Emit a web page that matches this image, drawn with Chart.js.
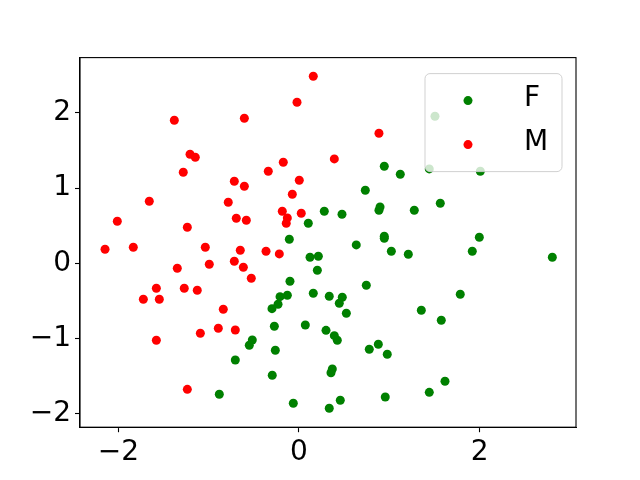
<!DOCTYPE html>
<html>
<head>
<meta charset="utf-8">
<script src="https://cdn.jsdelivr.net/npm/chart.js@4"></script>
<style>
  html, body { margin: 0; padding: 0; background: #fff; }
  #chart { display: block; }
</style>
</head>
<body>
<canvas id="chart" width="640" height="480"></canvas>
<script>
"use strict";

const seriesLabels = ["F", "M"];
const seriesColors = ["green", "red"];
const xTicks = [-2, 0, 2];
const yTicks = [-2, -1, 0, 1, 2];

// F (green)
const femaleX = [0.280, 0.103, -0.107, 1.505, 1.442, 2.007, 0.944, 1.121, 0.734, 0.897,
  0.885, 1.276, 1.564, 0.476, 0.944, 0.944, 1.996, 0.634, 1.022, 1.918,
  0.122, 0.214, 0.203, -0.100, -0.210, -0.129, -0.232, -0.299, 0.158, 0.335,
  -0.273, 0.070, 0.299, -0.517, -0.550, -0.262, -0.705, -0.296, -0.882, -0.063,
  0.335, 1.210, 2.804, 0.745, 0.479, 0.446, 0.524, 1.785, 1.354, 1.575,
  0.391, 0.424, 0.778, 0.878, 0.977, 0.369, 0.354, 1.616, 1.442, 0.955, 0.457];
const femaleY = [0.692, 0.532, 0.319, 1.956, 1.255, 1.224, 1.291, 1.184, 0.971, 0.749,
  0.705, 0.705, 0.798, 0.652, 0.359, 0.333, 0.346, 0.244, 0.160, 0.160,
  0.080, 0.093, -0.093, -0.240, -0.444, -0.426, -0.546, -0.604, -0.399, -0.439,
  -0.838, -0.821, -0.892, -1.021, -1.091, -1.158, -1.287, -1.490, -1.743, -1.863,
  -1.929, 0.120, 0.080, -0.293, -0.452, -0.532, -0.665, -0.413, -0.625, -0.758,
  -0.963, -1.025, -1.144, -1.078, -1.211, -1.407, -1.456, -1.570, -1.717, -1.779, -1.823];

// M (red)
const maleX = [0.158, -0.022, -1.380, -0.605, -1.206, -1.148, -1.281, -0.340, -0.174, -0.716,
  -0.605, 0.003, -0.074, -1.657, -0.783, -0.185, -0.129, -0.141, 0.025, -2.011,
  -0.694, -0.583, -1.236, 0.885, 0.391, -2.147, -1.834, -1.037, -0.650, -0.365,
  -0.218, -1.347, -0.993, -0.716, -0.616, -0.528, -1.579, -1.270, -1.126, -1.723,
  -1.546, -0.838, -0.893, -0.705, -1.092, -1.579, -1.236];
const maleY = [2.488, 2.142, 1.903, 1.929, 1.450, 1.410, 1.211, 1.224, 1.344, 1.091,
  1.025, 1.104, 0.918, 0.825, 0.812, 0.692, 0.603, 0.532, 0.665, 0.559,
  0.599, 0.572, 0.479, 1.730, 1.388, 0.186, 0.213, 0.213, 0.173, 0.160,
  0.124, -0.067, -0.013, 0.027, -0.053, -0.200, -0.333, -0.333, -0.359, -0.479,
  -0.479, -0.612, -0.865, -0.888, -0.931, -1.025, -1.677];

const FONT = "'DejaVu Sans', sans-serif";

function toPoints(xs, ys) {
  return xs.map((x, i) => ({ x: x, y: ys[i] }));
}

function fmt(v) {
  return v < 0 ? "\u2212" + Math.abs(v) : String(v);
}

const frame = {
  id: "frame",
  afterDraw(chart) {
    const { ctx, chartArea } = chart;
    ctx.save();
    ctx.strokeStyle = "#000";
    ctx.lineWidth = 1.1;
    ctx.strokeRect(chartArea.left, chartArea.top,
      chartArea.right - chartArea.left, chartArea.bottom - chartArea.top);
    ctx.restore();
  }
};

const legendBox = {
  id: "legendBox",
  afterDatasetsDraw(chart) {
    const { ctx, chartArea } = chart;
    const w = 137, h = 98;
    const x0 = chartArea.right - 14 - w;
    const y0 = chartArea.top + 16;
    ctx.save();
    ctx.beginPath();
    ctx.roundRect(x0, y0, w, h, 5);
    ctx.fillStyle = "rgba(255,255,255,0.8)";
    ctx.fill();
    ctx.strokeStyle = "rgba(204,204,204,0.9)";
    ctx.lineWidth = 1;
    ctx.stroke();
    chart.data.datasets.forEach((ds, i) => {
      const cy = y0 + 27 + i * 44;
      ctx.beginPath();
      ctx.arc(x0 + 43, cy, 4.5, 0, Math.PI * 2);
      ctx.fillStyle = ds.backgroundColor;
      ctx.fill();
      ctx.fillStyle = "#000";
      ctx.font = "28px " + FONT;
      ctx.textBaseline = "middle";
      ctx.fillText(ds.label, x0 + 99, cy - 2);
    });
    ctx.restore();
  }
};

function axisOpts(min, max, ticks) {
  return {
    type: "linear",
    min: min,
    max: max,
    afterBuildTicks: (axis) => { axis.ticks = ticks.map(v => ({ value: v })); },
    grid: { drawOnChartArea: false, tickLength: 5, tickColor: "#000", tickWidth: 1.1 },
    border: { color: "#000", width: 1.1 },
    ticks: {
      color: "#000",
      font: { family: FONT, size: 28 },
      padding: 4,
      maxRotation: 0,
      autoSkip: false,
      callback: (v) => fmt(v)
    }
  };
}

const xScale = axisOpts(-2.424, 3.066, xTicks);
xScale.afterFit = (s) => { s.height = 52.8; };
const yScale = axisOpts(-2.181, 2.736, yTicks);
yScale.afterFit = (s) => { s.width = 80; };

new Chart("chart", {
  type: "scatter",
  data: {
    datasets: [{
      label: seriesLabels[0],
      data: toPoints(femaleX, femaleY),
      backgroundColor: seriesColors[0],
      borderWidth: 0,
      pointRadius: 4.5,
      order: 1
    }, {
      label: seriesLabels[1],
      data: toPoints(maleX, maleY),
      backgroundColor: seriesColors[1],
      borderWidth: 0,
      pointRadius: 4.5,
      order: 0
    }]
  },
  options: {
    responsive: false,
    animation: false,
    layout: { padding: { top: 57.6, right: 64, left: 0, bottom: 0 } },
    plugins: { legend: { display: false }, tooltip: { enabled: false } },
    scales: { x: xScale, y: yScale }
  },
  plugins: [frame, legendBox]
});
</script>
</body>
</html>
